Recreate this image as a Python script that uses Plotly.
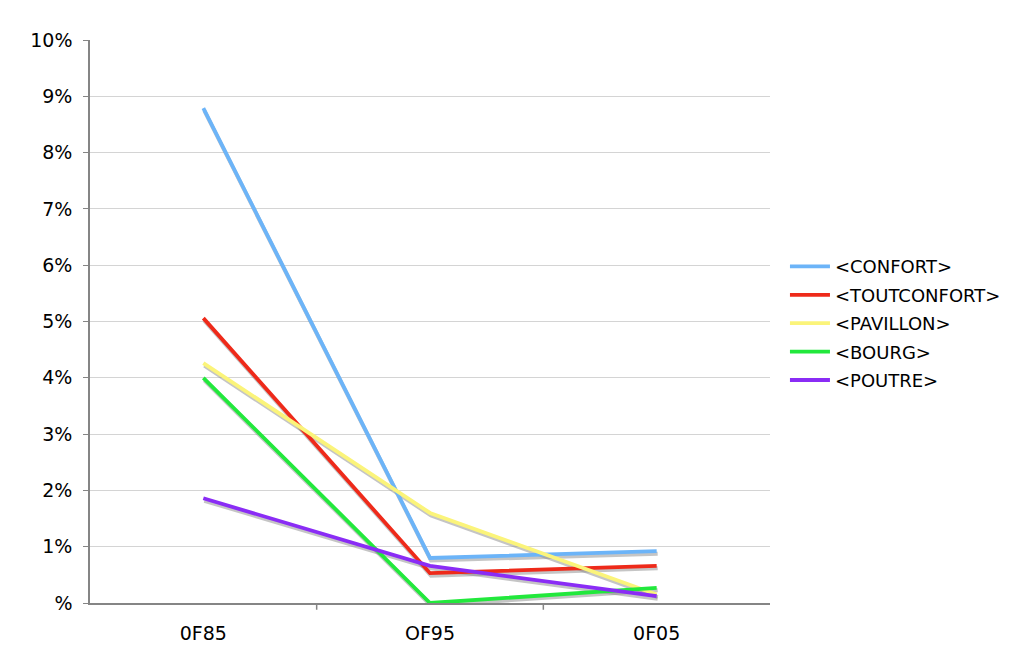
import plotly.graph_objects as go

categories = ["0F85", "OF95", "0F05"]
series_names = ["<CONFORT>", "<TOUTCONFORT>", "<PAVILLON>", "<BOURG>", "<POUTRE>"]
confort = [8.79, 0.80, 0.92]
toutconfort = [5.06, 0.53, 0.66]
pavillon = [4.26, 1.60, 0.15]
bourg = [4.00, 0.00, 0.27]
poutre = [1.86, 0.66, 0.12]
y_ticks = [0, 1, 2, 3, 4, 5, 6, 7, 8, 9, 10]
y_tick_labels = ["%", "1%", "2%", "3%", "4%", "5%", "6%", "7%", "8%", "9%", "10%"]

colors = ["#6cb4f8", "#ee2a1a", "#fbf47a", "#22e83c", "#8a2cf5"]
values = [confort, toutconfort, pavillon, bourg, poutre]

fig = go.Figure()
x_idx = [0, 1, 2]

# shadows (overlay axes x2/y2, shifted a few pixels)
for v in values:
    fig.add_trace(go.Scatter(x=x_idx, y=[val / 100 for val in v], mode="lines",
                             line=dict(color="rgba(140,140,140,0.5)", width=4),
                             xaxis="x2", yaxis="y2", showlegend=False, hoverinfo="skip"))

# main lines (overlay axes x3/y3, same ranges as visible axes)
for name, v, c in zip(series_names, values, colors):
    fig.add_trace(go.Scatter(x=x_idx, y=[val / 100 for val in v], mode="lines", name=name,
                             legendgroup=name,
                             line=dict(color=c, width=3.8), xaxis="x3", yaxis="y3"))

plot_h = 563.0
plot_w = 680.0
dy = 2.5 / plot_h * 0.10
dx = 1.0 / plot_w * 3.0

fig.update_layout(
    width=1011, height=649,
    margin=dict(l=82, r=249, t=32, b=54),
    paper_bgcolor="white", plot_bgcolor="white",
    font=dict(family="DejaVu Sans, Verdana, sans-serif", size=19, color="#000"),
    xaxis=dict(range=[-0.5, 2.5], tickmode="array", tickvals=x_idx, ticktext=categories,
               showgrid=False, showline=True, linecolor="#858585", linewidth=1.5,
               ticks="", zeroline=False, fixedrange=True, ticklabelstandoff=12),
    xaxis2=dict(range=[-0.5 - dx, 2.5 - dx], overlaying="x", visible=False, fixedrange=True),
    xaxis3=dict(range=[-0.5, 2.5], overlaying="x", visible=False, fixedrange=True),
    yaxis=dict(range=[0, 0.10], tickmode="array", tickvals=[t / 100 for t in y_ticks],
               ticktext=y_tick_labels, showgrid=True, gridcolor="#d4d4d4", gridwidth=1,
               showline=True, linecolor="#858585", linewidth=1.5, ticks="outside",
               ticklen=5, tickcolor="#858585", zeroline=False, fixedrange=True,
               ticklabelstandoff=7),
    yaxis2=dict(range=[dy, 0.10 + dy], overlaying="y", visible=False, fixedrange=True),
    yaxis3=dict(range=[0, 0.10], overlaying="y", visible=False, fixedrange=True),
    legend=dict(x=1.022, y=0.497, xanchor="left", yanchor="middle",
                font=dict(size=18), tracegroupgap=2, itemwidth=40),
    showlegend=True,
)

# category boundary ticks on x-axis
fig.update_layout(shapes=[
    dict(type="line", xref="x", yref="paper", x0=b, x1=b, y0=0, y1=-0.012,
         line=dict(color="#858585", width=1.5))
    for b in [0.5, 1.5]
])

fig.write_html("out.html")
